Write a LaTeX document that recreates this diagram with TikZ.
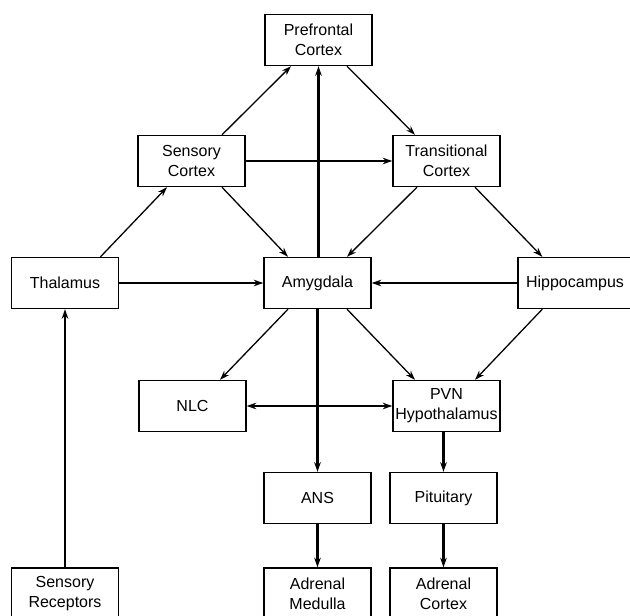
\documentclass[tikz,border=0pt]{standalone}
\usepackage{fontspec}
\setmainfont{Liberation Sans}
\usepackage{tikz}
\usetikzlibrary{arrows.meta}

\begin{document}
\begin{tikzpicture}[x=1pt,y=-1pt,>={Stealth[length=9.5pt,width=6.5pt]},
  main node/.style={rectangle,draw,line width=1.4pt,fill=white,minimum width=107pt,
    minimum height=51pt,inner sep=0pt,align=center,font=\fontsize{16}{20}\selectfont},
  thin edge/.style={->,line width=1.3pt},
  thick edge/.style={->,line width=2.7pt}]

  \clip (0,0) rectangle (630,616);

  \node[main node] (pfc) at (318.5,40) {Prefrontal\\Cortex};
  \node[main node] (sc) at (191.5,161) {Sensory\\Cortex};
  \node[main node] (tc) at (446.5,161) {Transitional\\Cortex};
  \node[main node] (thal) at (65,283) {Thalamus};
  \node[main node] (amy) at (317.5,283) {Amygdala};
  \node[main node,minimum width=114pt] (hip) at (575,283) {Hippocampus};
  \node[main node] (nlc) at (192.5,406) {NLC};
  \node[main node] (pvn) at (446.5,406) {PVN\\Hypothalamus};
  \node[main node] (ans) at (317.5,498) {ANS};
  \node[main node] (pit) at (443.5,498) {Pituitary};
  \node[main node] (sr) at (65,593.5) {Sensory\\Receptors};
  \node[main node] (am) at (317.5,593.5) {Adrenal\\Medulla};
  \node[main node] (ac) at (443.5,593.5) {Adrenal\\Cortex};

  % thin diagonal pathways
  \path[thin edge]
    ([xshift=30.5pt]sc.north) edge ([xshift=-27.5pt]pfc.south)
    ([xshift=28.5pt]pfc.south) edge ([xshift=-31.5pt]tc.north)
    ([xshift=35.5pt]thal.north) edge ([xshift=-24.5pt]sc.south)
    ([xshift=30.5pt]sc.south) edge ([xshift=-29.5pt]amy.north)
    ([xshift=-29.5pt]tc.south) edge ([xshift=29.5pt]amy.north)
    ([xshift=28.5pt]tc.south) edge ([xshift=25pt]hip.north west)
    ([xshift=-29.5pt]amy.south) edge ([xshift=27.5pt]nlc.north)
    ([xshift=29.5pt]amy.south) edge ([xshift=-31.5pt]pvn.north)
    ([xshift=25pt]hip.south west) edge ([xshift=28.5pt]pvn.north);

  % thick pathways
  \path[thick edge]
    (nlc) edge[<->] (pvn)
    (amy.north -| pfc.south) edge (pfc.south)
    (sc) edge (tc)
    (thal) edge (amy)
    (hip) edge (amy)
    (amy) edge (ans)
    (pvn.south -| pit.north) edge (pit.north)
    (ans) edge (am)
    (pit) edge (ac)
    (sr) edge (thal);
\end{tikzpicture}
\end{document}
